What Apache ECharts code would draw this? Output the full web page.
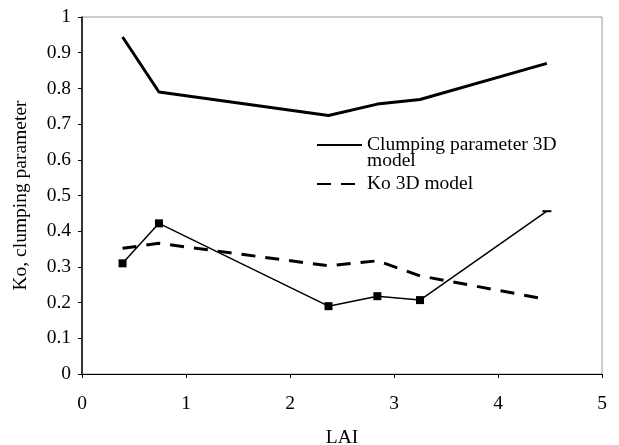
<!DOCTYPE html>
<html>
<head>
<meta charset="utf-8">
<script src="https://cdn.jsdelivr.net/npm/echarts@6/dist/echarts.min.js"></script>
<style>html,body{margin:0;padding:0;background:#fff;}#c{width:619px;height:445px;}</style>
</head>
<body>
<div id="c"></div>
<script>
const lai = [0.39, 0.74, 2.37, 2.84, 3.25, 4.47];
const clumping3D = [0.944, 0.79, 0.724, 0.756, 0.769, 0.870];
const ko3D = [0.352, 0.366, 0.303, 0.317, 0.275, 0.209];
const koMeasured = [0.31, 0.422, 0.19, 0.218, 0.207, 0.456];
const xTicks = [0, 1, 2, 3, 4, 5];
const yTicks = [0, 0.1, 0.2, 0.3, 0.4, 0.5, 0.6, 0.7, 0.8, 0.9, 1];
const seriesNames = ['Clumping parameter 3D model', 'Ko 3D model', 'Ko measured'];

const pair = (xs, ys) => xs.map((x, i) => [x, ys[i]]);
const font = 'Liberation Serif';
const fs = 19.5;
const chart = echarts.init(document.getElementById('c'));
chart.setOption({
  animation: false,
  backgroundColor: '#fff',
  textStyle: { fontFamily: font },
  grid: { left: 82, right: 17, top: 17, bottom: 71, containLabel: false, outerBoundsMode: 'none',
          show: true, borderColor: '#999', borderWidth: 1 },
  xAxis: {
    type: 'value', min: xTicks[0], max: xTicks[xTicks.length - 1], interval: 1,
    name: 'LAI', nameLocation: 'middle', nameGap: 54,
    nameTextStyle: { fontFamily: font, fontSize: fs, color: '#000' },
    axisLine: { lineStyle: { color: '#000', width: 1 } },
    axisTick: { show: true, length: 4, lineStyle: { color: '#000' } },
    axisLabel: { fontFamily: font, fontSize: fs, color: '#000', margin: 20 },
    splitLine: { show: false }
  },
  yAxis: {
    type: 'value', min: yTicks[0], max: yTicks[yTicks.length - 1], interval: 0.1,
    name: 'Ko, clumping parameter', nameLocation: 'middle', nameGap: 51,
    nameTextStyle: { fontFamily: font, fontSize: fs, color: '#000' },
    axisLine: { show: true, lineStyle: { color: '#000', width: 1.5 } },
    axisTick: { show: true, length: 4, lineStyle: { color: '#000' } },
    axisLabel: { fontFamily: font, fontSize: fs, color: '#000', margin: 11 },
    splitLine: { show: false }
  },
  legend: {
    orient: 'vertical', left: 316, top: 119, padding: 0, itemWidth: 45, itemHeight: 12, itemGap: 3,
    itemStyle: { opacity: 0 },
    textStyle: { fontFamily: font, fontSize: fs, color: '#000', lineHeight: 16 },
    formatter: name => name === seriesNames[0] ? ' \nClumping parameter 3D\nmodel' : name,
    data: [seriesNames[0], seriesNames[1]]
  },
  series: [
    {
      name: seriesNames[0], type: 'line', data: pair(lai, clumping3D),
      symbol: 'none', lineStyle: { color: '#000', width: 3 }, itemStyle: { color: '#000' }
    },
    {
      name: seriesNames[1], type: 'line', data: pair(lai, ko3D),
      symbol: 'none', lineStyle: { color: '#000', width: 3, type: [14, 10] }, itemStyle: { color: '#000' }
    },
    {
      name: seriesNames[2], type: 'line',
      data: pair(lai, koMeasured).map((p, i) => i === lai.length - 1 ? { value: p, symbolSize: [9, 2] } : p),
      symbol: 'rect', symbolSize: 8, lineStyle: { color: '#000', width: 1.5 }, itemStyle: { color: '#000' }
    }
  ]
});
</script>
</body>
</html>
